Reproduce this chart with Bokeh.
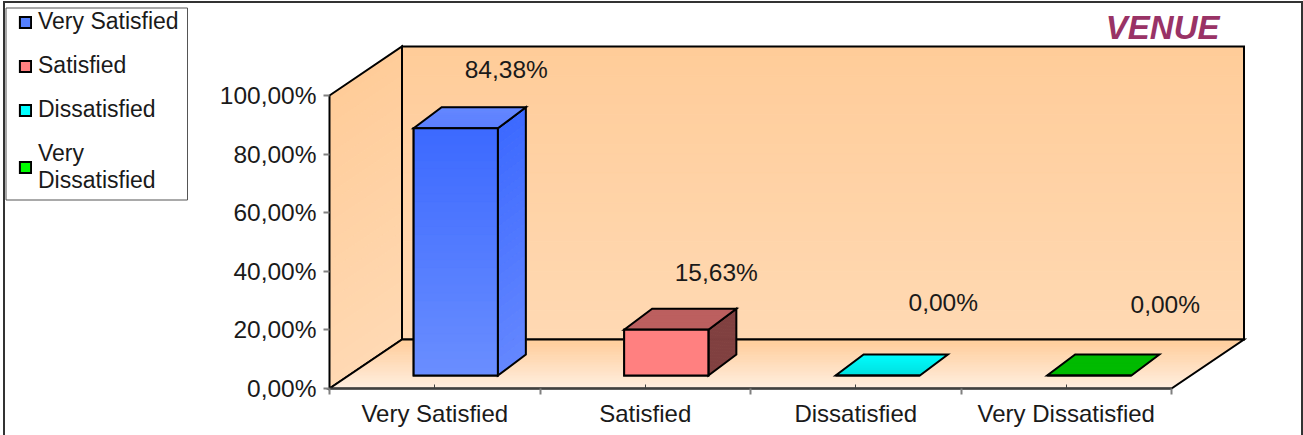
from bokeh.plotting import figure
from bokeh.models import Range1d, LinearAxis, FixedTicker, Legend, LegendItem
from bokeh.core.properties import value
from bokeh.embed import file_html
from bokeh.resources import INLINE

categories = ["Very Satisfied", "Satisfied", "Dissatisfied", "Very Dissatisfied"]
legend_labels = ["Very Satisfied", "Satisfied", "Dissatisfied", "Very\nDissatisfied"]
values = [84.38, 15.63, 0.0, 0.0]
value_labels = ["84,38%", "15,63%", "0,00%", "0,00%"]
y_ticks = [0, 20, 40, 60, 80, 100]
y_tick_labels = ["0,00%", "20,00%", "40,00%", "60,00%", "80,00%", "100,00%"]

W, H = 1303, 435
X0, Y0 = 329, 388         # screen position of the chart origin
PX, PY = 210.5, 2.93      # pixels per category, pixels per percent
DEPTH = (72.5, 49)
FRONT = (19, 13)
BACK = (47, 34)
HALF = 0.2
SHIFT = [21, 21, 22, 23]
LABEL_OFF = [(50.5, 59), (50, 57), (65.5, 73), (76, 71)]
FONT = value("Liberation Sans")

def sx(px): return (px - X0) / PX
def sy(py): return (Y0 - py) / PY
def P(c, v, d=(0, 0)): return (c + d[0] / PX, v + d[1] / PY)
def mix(a, b, t): return "#%02x%02x%02x" % tuple(round(a[i] + (b[i] - a[i]) * t) for i in range(3))

p = figure(width=W, height=H, x_range=Range1d(sx(0), sx(W)), y_range=Range1d(sy(H), sy(0)),
           x_axis_type=None, y_axis_type=None, toolbar_location=None, output_backend="svg",
           min_border=0, outline_line_color=None)

def shaded(a, b, c, d, top, bottom, n=30):
    """a-b top edge, d-c bottom edge; colour runs from top to bottom."""
    xs, ys, cols = [], [], []
    for i in range(n):
        t0, t1 = i / n, (i + 1) / n
        lerp = lambda u, w, t: (u[0] + (w[0] - u[0]) * t, u[1] + (w[1] - u[1]) * t)
        q = [lerp(a, d, t0), lerp(b, c, t0), lerp(b, c, t1), lerp(a, d, t1)]
        xs.append([k[0] for k in q]); ys.append([k[1] for k in q])
        cols.append(mix(top, bottom, (i + .5) / n))
    p.patches(xs, ys, fill_color=cols, line_color=cols, line_width=1)

def outline(pts, fill=None, lw=2):
    return p.patch([k[0] for k in pts], [k[1] for k in pts], fill_color=fill, fill_alpha=1 if fill else 0,
                   line_color="#000000", line_width=lw, line_join="miter")

# outer frame
outline([(sx(3.5), sy(1.5)), (sx(1301.5), sy(1.5)), (sx(1301.5), sy(436)), (sx(3.5), sy(436))], lw=2).glyph.line_color = "#333333"
# legend box
outline([(sx(5.5), sy(7.5)), (sx(187), sy(7.5)), (sx(187), sy(199.5)), (sx(5.5), sy(199.5))], fill="#ffffff", lw=1).glyph.line_color = "#555555"

n = len(categories)
WALL_T, WALL_B = (255, 204, 153), (255, 217, 179)
FLOOR_B, FLOOR_F = (255, 204, 153), (255, 238, 223)
a, b = P(0, 100), P(0, 100, DEPTH)
c, d = P(0, 0, DEPTH), P(0, 0)
shaded(a, b, c, d, WALL_T, WALL_B)
outline([a, b, c, d])
a2, b2, c2, d2 = P(0, 100, DEPTH), P(n, 100, DEPTH), P(n, 0, DEPTH), P(0, 0, DEPTH)
shaded(a2, b2, c2, d2, WALL_T, WALL_B)
outline([a2, b2, c2, d2])
f1, f2, f3, f4 = P(0, 0, DEPTH), P(n, 0, DEPTH), P(n, 0), P(0, 0)
shaded(f1, f2, f3, f4, FLOOR_B, FLOOR_F)
outline([f1, f2, f3, f4])

front_cols = [((60, 105, 255), (106, 142, 255)), ((255, 128, 128), (255, 128, 128)),
              ((0, 255, 255), (0, 255, 255)), ((0, 255, 0), (0, 255, 0))]
top_cols = [((102, 136, 255), (92, 128, 255)), ((188, 96, 96), (188, 96, 96)),
            ((0, 255, 255), (0, 224, 224)), ((0, 187, 0), (0, 187, 0))]
side_cols = [((60, 105, 255), (100, 135, 255)), ((128, 64, 64), (128, 64, 64)),
             ((0, 200, 200), (0, 200, 200)), ((0, 128, 0), (0, 128, 0))]
swatches = ["#5580ff", "#ff8080", "#00ffff", "#00ff00"]

items = []
for i, v in enumerate(values):
    c0 = i + .5 + (SHIFT[i] - FRONT[0]) / PX
    L, R = c0 - HALF, c0 + HALF
    fb, ft = P(L, 0, FRONT), P(L, v, FRONT)
    gb, gt = P(R, 0, FRONT), P(R, v, FRONT)
    bb, bt = P(R, 0, BACK), P(R, v, BACK)
    ht = P(L, v, BACK)
    # side
    if v > 0:
        shaded(gt, bt, bb, gb, *side_cols[i]); outline([gt, bt, bb, gb])
    # top
    shaded(ht, bt, gt, ft, *top_cols[i]); outline([ht, bt, gt, ft])
    # front
    r = outline([ft, gt, gb, fb], fill=swatches[i])
    if v > 0:
        shaded(ft, gt, gb, fb, *front_cols[i]); outline([ft, gt, gb, fb])
    items.append(LegendItem(label=legend_labels[i], renderers=[r]))

lx = [i + .5 + (SHIFT[i] - FRONT[0]) / PX + (FRONT[0] + LABEL_OFF[i][0]) / PX for i in range(n)]
ly = [values[i] + (FRONT[1] + LABEL_OFF[i][1]) / PY for i in range(n)]
p.text(lx, ly, text=value_labels, text_font=FONT, text_font_size="24.5px", text_color="#1a1a1a",
       text_align="center", text_baseline="middle")
p.text([sx(1219)], [sy(27)], text=["VENUE"], text_font=FONT, text_font_size="33px", text_font_style="bold italic",
       text_color="#993366", text_align="right", text_baseline="middle")

yaxis = LinearAxis(fixed_location=0, bounds=(0, 100), ticker=FixedTicker(ticks=y_ticks),
                   major_label_overrides=dict(zip(y_ticks, y_tick_labels)),
                   major_label_text_font="Liberation Sans", major_label_text_font_size="24.5px",
                   major_label_text_color="#1a1a1a", major_label_standoff=7,
                   major_tick_in=0, major_tick_out=6, minor_tick_in=0, minor_tick_out=0,
                   major_tick_line_color="#808080", axis_line_color=None, major_tick_line_width=2)
p.add_layout(yaxis, "left")
centres = [i + .5 for i in range(n)]
xaxis = LinearAxis(fixed_location=0, bounds=(0, n), ticker=FixedTicker(ticks=centres, minor_ticks=list(range(n + 1))),
                   major_label_overrides=dict(zip(centres, categories)),
                   major_label_text_font="Liberation Sans", major_label_text_font_size="24px",
                   major_label_text_color="#1a1a1a", major_label_standoff=5,
                   major_tick_in=4, major_tick_out=0, minor_tick_in=0, minor_tick_out=6,
                   major_tick_line_color="#404040", minor_tick_line_color="#808080",
                   axis_line_color="#404040", axis_line_width=2, minor_tick_line_width=2)
p.add_layout(xaxis, "below")

legend = Legend(items=items, location=(18, H - 194), orientation="vertical",
                label_text_font="Liberation Sans", label_text_font_size="23px", label_text_color="#1a1a1a",
                glyph_width=14, glyph_height=14, label_standoff=6, spacing=17, padding=0, margin=0,
                border_line_color=None, background_fill_alpha=0)
p.add_layout(legend)

open("out.html", "w").write(file_html(p, INLINE))
